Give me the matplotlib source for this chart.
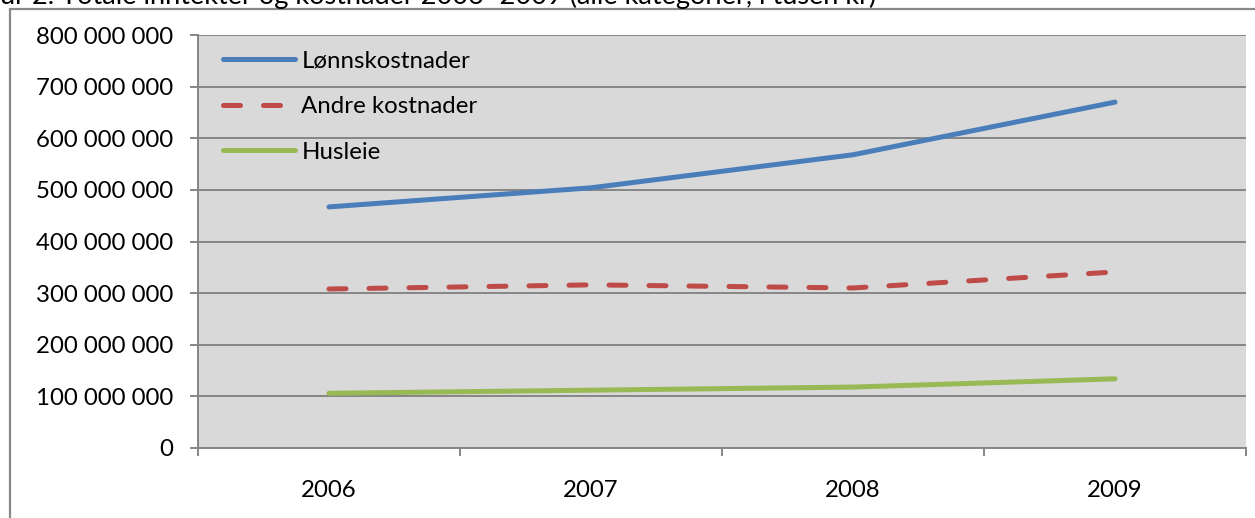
import matplotlib
matplotlib.use('Agg')
import matplotlib.pyplot as plt
from matplotlib.patches import Rectangle
from matplotlib.ticker import FuncFormatter, FixedLocator

# Data
years = ['2006', '2007', '2008', '2009']
lonn = [467e6, 504e6, 568e6, 670e6]
andre = [308e6, 316e6, 310e6, 341e6]
husleie = [106e6, 112e6, 118e6, 134e6]
title = 'Figur 2. Totale inntekter og kostnader 2006–2009 (alle kategorier, i tusen kr)'

plt.rcParams['font.family'] = ['Lato', 'DejaVu Sans']
W, H = 1255, 518
fig = plt.figure(figsize=(W / 100, H / 100), dpi=100)

# outer chart frame (runs off the right and bottom edge)
fig.patches.append(Rectangle((10 / W, -0.1), 1.2, (H - 9) / H + 0.1,
                             transform=fig.transFigure, fill=False,
                             edgecolor='#888888', linewidth=1.6))
# caption above the chart, only its lower part is visible
fig.text(-36 / W, (H - 4) / H, title, fontsize=19.5, va='baseline', ha='left')

ax = fig.add_axes([198 / W, (H - 448) / H, (1246 - 198) / W, (448 - 35) / H])
ax.set_facecolor('#D9D9D9')

x = range(len(years))
ax.plot(x, lonn, color='#4A7EBB', lw=3.6, solid_capstyle='round', label='Lønnskostnader')
ax.plot(x, andre, color='#BE4B48', lw=3.6, dashes=(3.4, 4.6), dash_capstyle='round',
        label='Andre kostnader')
ax.plot(x, husleie, color='#98B954', lw=3.6, solid_capstyle='round', label='Husleie')

ax.set_xlim(-0.5, len(years) - 0.5)
ax.set_ylim(0, 800e6)
ax.set_yticks([i * 100e6 for i in range(9)])
ax.yaxis.set_major_formatter(FuncFormatter(lambda v, p: f'{int(v):,}'.replace(',', ' ')))
ax.set_xticks(list(x))
ax.set_xticklabels(years)
ax.xaxis.set_minor_locator(FixedLocator([i - 0.5 for i in range(len(years) + 1)]))

ax.grid(axis='y', color='#868686', lw=1.4)
ax.set_axisbelow(True)
for s in ['top', 'right']:
    ax.spines[s].set_visible(False)
for s in ['left', 'bottom']:
    ax.spines[s].set_color('#868686')
    ax.spines[s].set_linewidth(1.4)

ax.tick_params(axis='y', length=6, width=1.4, color='#868686', pad=12, labelsize=17.3)
ax.tick_params(axis='x', which='major', length=0, pad=23, labelsize=17.3)
ax.tick_params(axis='x', which='minor', length=6, width=1.4, color='#868686')

ax.legend(loc='upper left', bbox_to_anchor=(0.015, 0.985), frameon=False, fontsize=17.3,
          handlelength=3.0, handletextpad=0.25, labelspacing=1.02, borderaxespad=0)

fig.savefig('out.png', dpi=100)
